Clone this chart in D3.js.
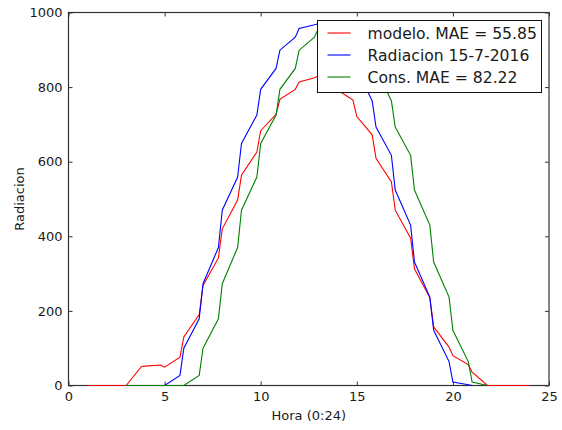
<!DOCTYPE html>
<html>
<head>
<meta charset="utf-8">
<script src="https://cdn.jsdelivr.net/npm/d3@7/dist/d3.min.js"></script>
<style>
  html, body { margin: 0; padding: 0; background: #fff; }
  svg { display: block; font-family: "DejaVu Sans", sans-serif; }
</style>
</head>
<body>
<svg id="chart" width="562" height="430"></svg>
<script>
// ---- data ----
const hours = [1, 1.8, 2, 2.8, 3, 3.8, 4, 4.8, 5, 5.8, 6, 6.8, 7, 7.8, 8, 8.8, 9, 9.8, 10, 10.8,
  11, 11.8, 12, 12.8, 13, 13.8, 14, 14.8, 15, 15.8, 16, 16.8, 17, 17.8, 18, 18.8, 19, 19.8, 20, 20.8,
  21, 21.8, 22, 22.8, 23, 23.8, 24];

const modelo = [0, 0, 0, 0, 0, 51, 52, 55, 49, 76, 130, 190, 268, 342, 420, 497, 564, 626, 683, 727,
  767, 794, 814, 825, 830, 805, 792, 765, 721, 672, 609, 546, 470, 395, 313, 235, 157, 103, 80, 56,
  36, 0, 0, 0, 0, 0, 0];

const radiacion = [null, null, null, null, 0, 0, 0, 0, 0, 27, 100, 179, 273, 370, 470, 559, 649, 725, 794, 850,
  899, 934, 957, 967, 970, 975, 957, 900, 850, 763, 693, 617, 524, 430, 331, 237, 148, 64, 9, 2,
  0, null, null, null, null, null, null];

const cons = [null, null, null, null, 0, 0, 0, 0, 0, 0, 0, 27, 100, 179, 273, 370, 470, 559, 649, 725,
  794, 850, 899, 934, 957, 967, 970, 975, 957, 900, 850, 763, 693, 617, 524, 430, 331, 237, 148, 64,
  9, 0, null, null, null, null, null];

const seriesNames = ["modelo. MAE = 55.85", "Radiacion 15-7-2016", "Cons. MAE = 82.22"];
const seriesColors = ["#ff0000", "#0000ff", "#008000"];
const xTicks = [0, 5, 10, 15, 20, 25];
const yTicks = [0, 200, 400, 600, 800, 1000];
const xLabel = "Hora (0:24)";
const yLabel = "Radiacion";

// ---- layout ----
const svg = d3.select("#chart");
const L = 68.5, R = 549, T = 12.5, B = 385.5;
const x = d3.scaleLinear().domain([0, 25]).range([L, R]);
const y = d3.scaleLinear().domain([0, 1000]).range([B, T]);
const tickLen = 4;
const textColor = "#1a1a1a";

// frame (drawn under the lines)
svg.append("rect")
  .attr("x", L).attr("y", T).attr("width", R - L).attr("height", B - T)
  .attr("fill", "none").attr("stroke", "#333").attr("stroke-width", 1.2);

// axes (inward ticks, all four sides)
const axB = svg.append("g").attr("transform", `translate(0,${B})`)
  .call(d3.axisBottom(x).tickValues(xTicks).tickSize(-tickLen).tickPadding(6).tickFormat(d3.format("d")));
const axT = svg.append("g").attr("transform", `translate(0,${T})`)
  .call(d3.axisTop(x).tickValues(xTicks).tickSize(-tickLen).tickFormat(""));
const axL = svg.append("g").attr("transform", `translate(${L},0)`)
  .call(d3.axisLeft(y).tickValues(yTicks).tickSize(-tickLen).tickPadding(6).tickFormat(d3.format("d")));
const axR = svg.append("g").attr("transform", `translate(${R},0)`)
  .call(d3.axisRight(y).tickValues(yTicks).tickSize(-tickLen).tickFormat(""));

[axB, axT, axL, axR].forEach(a => {
  a.select(".domain").remove();
  a.selectAll(".tick line").attr("stroke", "#333").attr("stroke-width", 1);
  a.selectAll(".tick text").attr("fill", textColor)
    .style("font-family", "DejaVu Sans, sans-serif").style("font-size", "13px");
});
axB.selectAll(".tick text").attr("dy", "0.71em");

// lines
const allSeries = [modelo, radiacion, cons];
const line = d3.line()
  .defined(d => d[1] !== null)
  .x(d => x(d[0]))
  .y(d => y(d[1]));

const g = svg.append("g");
allSeries.forEach((vals, i) => {
  const pts = hours.map((h, k) => [h, vals[k]]);
  g.append("path")
    .attr("d", line(pts))
    .attr("fill", "none")
    .attr("stroke", seriesColors[i])
    .attr("stroke-width", 1.1)
    .attr("stroke-linejoin", "miter");
});

// axis labels
svg.append("text")
  .attr("x", (L + R) / 2).attr("y", 420)
  .attr("text-anchor", "middle")
  .attr("fill", textColor)
  .style("font-size", "13px")
  .text(xLabel);
svg.append("text")
  .attr("transform", `translate(24,${(T + B) / 2}) rotate(-90)`)
  .attr("text-anchor", "middle")
  .attr("fill", textColor)
  .style("font-size", "13px")
  .text(yLabel);

// legend
const lg = svg.append("g").attr("transform", "translate(317.5,20.5)");
lg.append("rect").attr("width", 224).attr("height", 72)
  .attr("fill", "#fff").attr("stroke", "#111").attr("stroke-width", 1);
seriesNames.forEach((name, i) => {
  const yy = 12.5 + i * 22;
  lg.append("line").attr("x1", 10).attr("x2", 33).attr("y1", yy).attr("y2", yy)
    .attr("stroke", seriesColors[i]).attr("stroke-width", 1.1);
  lg.append("text").attr("x", 50).attr("y", yy).attr("dy", "0.36em")
    .attr("fill", textColor).style("font-size", "15.6px").text(name);
});
</script>
</body>
</html>
